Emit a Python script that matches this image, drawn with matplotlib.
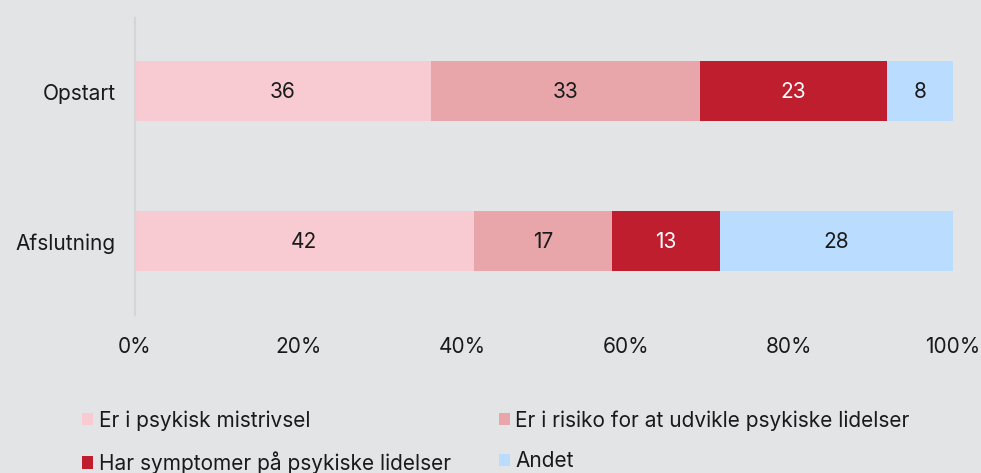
import matplotlib.pyplot as plt
import numpy as np

plt.rcParams['font.family'] = ['Inter', 'DejaVu Sans']

categories = ["Opstart", "Afslutning"]
series = ["Er i psykisk mistrivsel", "Er i risiko for at udvikle psykiske lidelser",
          "Har symptomer på psykiske lidelser", "Andet"]
# shares (%) per category
values = np.array([
    [36.2, 32.9, 22.8, 8.1],
    [41.4, 16.9, 13.2, 28.5],
])
labels = [[36, 33, 23, 8], [42, 17, 13, 28]]
colors = ["#F7CBD1", "#E8A6AB", "#BE1E2D", "#B9DCFF"]
text_colors = ["#1a1a1a", "#1a1a1a", "white", "#1a1a1a"]
xticks = [0, 20, 40, 60, 80, 100]
bg = "#E3E4E6"
fs = 15

fig = plt.figure(figsize=(9.81, 4.73), dpi=100, facecolor=bg)
ax = fig.add_axes([135 / 981, 1 - 315 / 473, (953 - 135) / 981, (315 - 18) / 473])
ax.set_facecolor(bg)

y = np.arange(len(categories))
left = np.zeros(len(categories))
for j, name in enumerate(series):
    ax.barh(y, values[:, j], left=left, height=0.4, color=colors[j], label=name)
    for i in range(len(categories)):
        ax.text(left[i] + values[i, j] / 2, y[i], str(labels[i][j]), ha="center", va="center",
                fontsize=fs, color=text_colors[j])
    left += values[:, j]

ax.set_xlim(0, 100)
ax.set_ylim(1.49, -0.49)
ax.set_yticks(y)
ax.set_yticklabels(categories, fontsize=fs, color="#1a1a1a")
ax.set_xticks(xticks)
ax.set_xticklabels([f"{t}%" for t in xticks], fontsize=fs, color="#1a1a1a")
ax.tick_params(axis="both", length=0)
ax.tick_params(axis="x", pad=16)
ax.tick_params(axis="y", pad=14)
for s in ["top", "right", "bottom"]:
    ax.spines[s].set_visible(False)
ax.spines["left"].set_color("#D4D5D7")
ax.spines["left"].set_linewidth(1.5)

# legend filled row by row: reorder for matplotlib's column-wise filling
handles, names = ax.get_legend_handles_labels()
order = [0, 2, 1, 3]
fig.legend([handles[k] for k in order], [names[k] for k in order], ncol=2, loc="upper left",
           bbox_to_anchor=(82 / 981, 1 - 410 / 473), borderaxespad=0, borderpad=0,
           frameon=False, fontsize=fs, handlelength=0.55, handleheight=0.55, handletextpad=0.25,
           columnspacing=2.3, labelspacing=1.0, labelcolor="#1a1a1a")

fig.savefig("out.png", dpi=100, facecolor=bg)
